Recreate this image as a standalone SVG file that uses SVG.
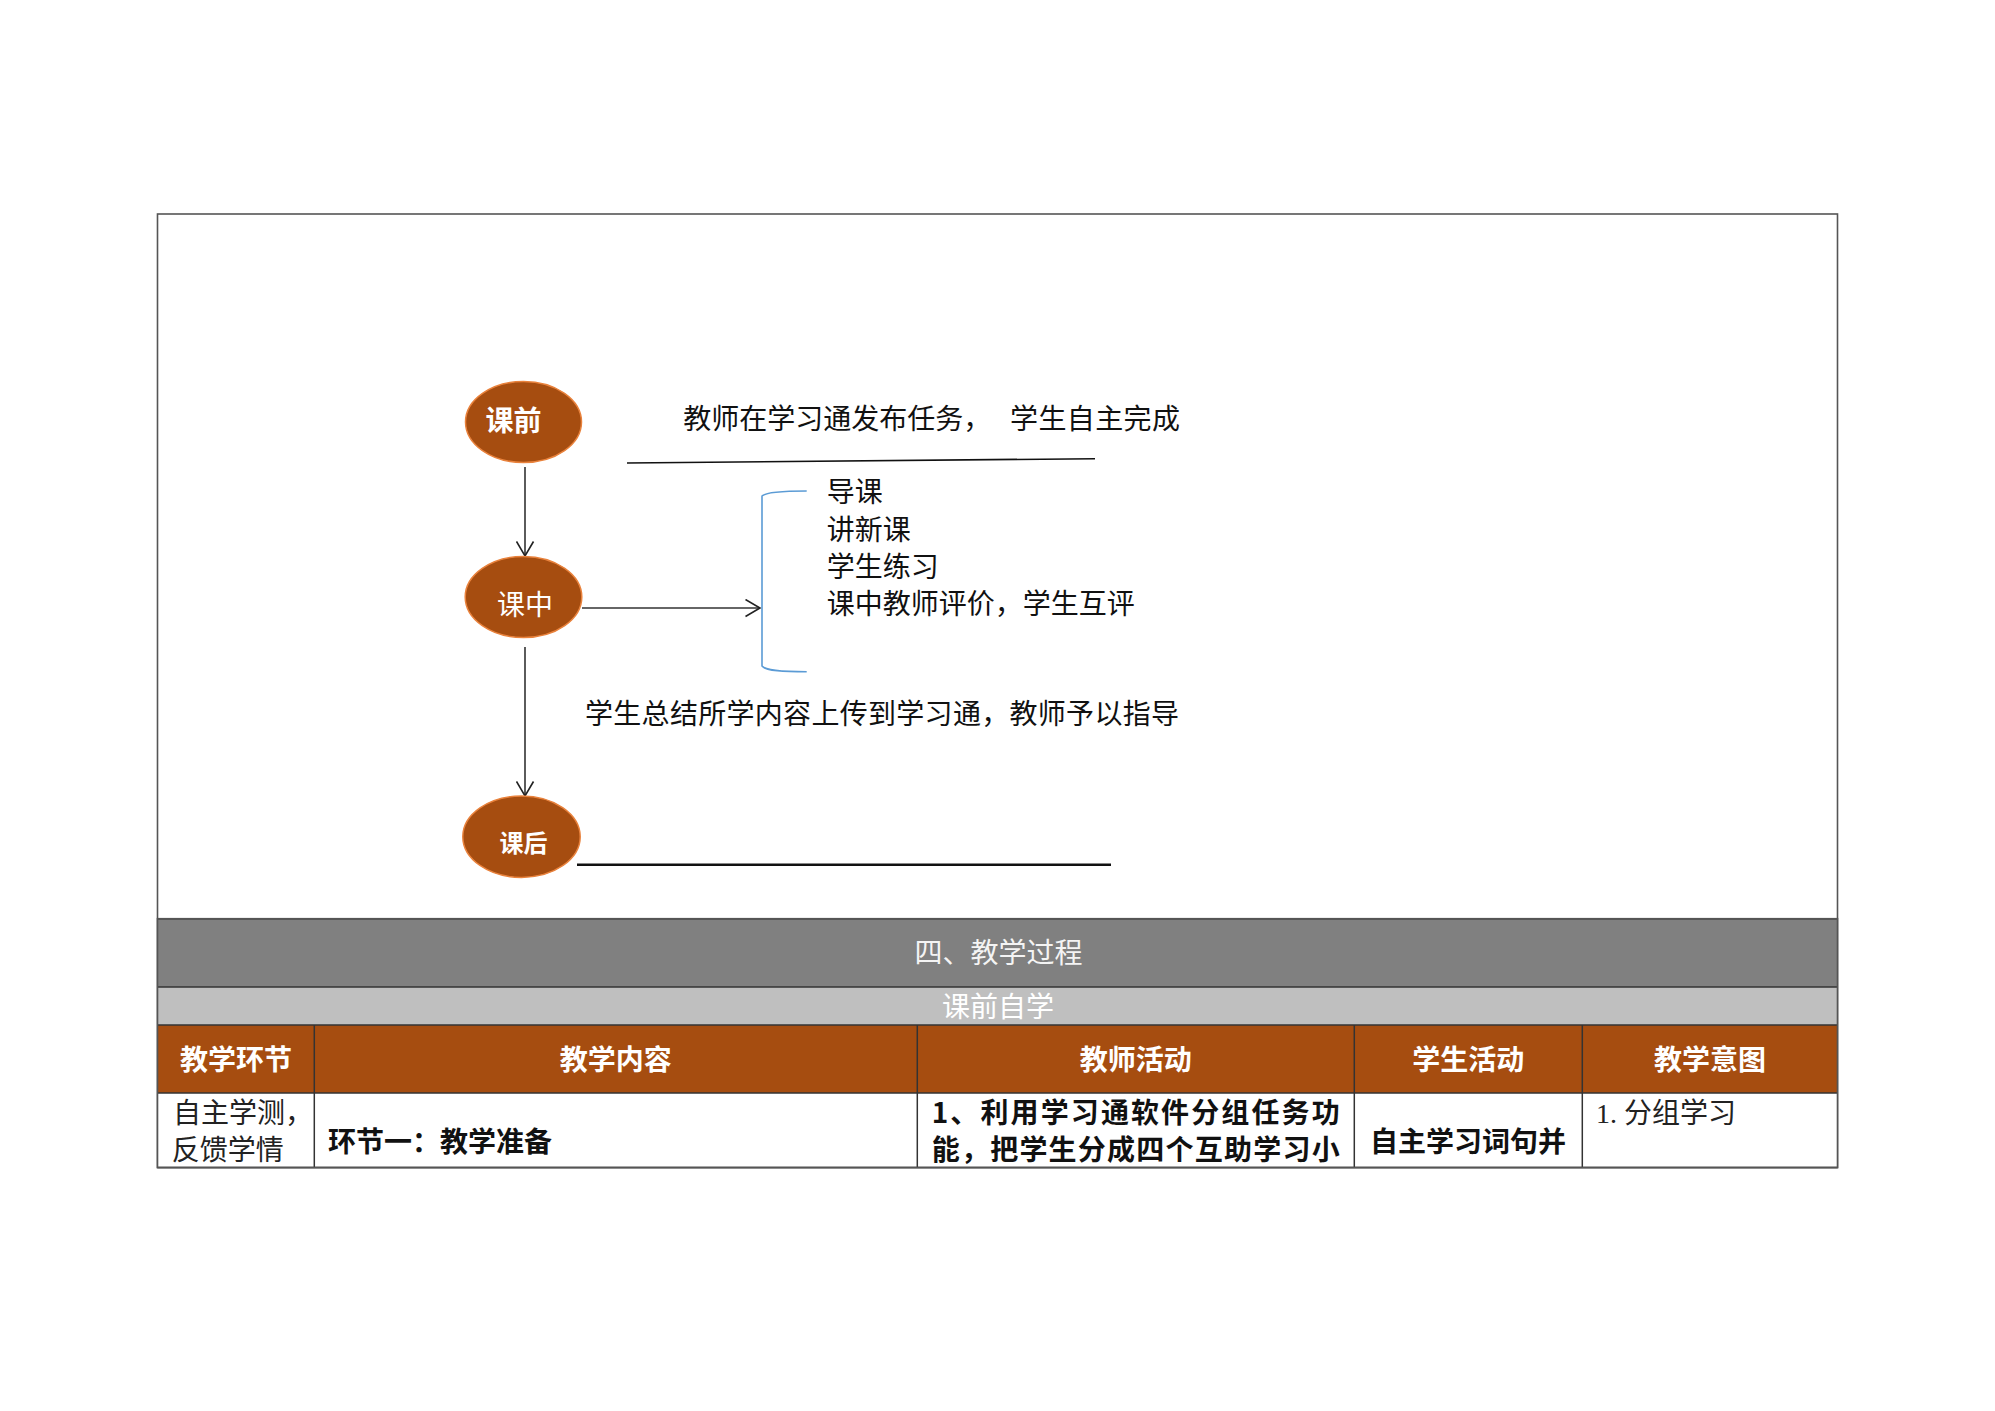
<svg xmlns="http://www.w3.org/2000/svg" width="1995" height="1411" viewBox="0 0 1995 1411">
<style>
.t{font-family:"Noto Sans CJK SC","Liberation Sans",sans-serif;font-size:28px;fill:#111}
.w{fill:#ffffff}
.b{font-weight:bold}
.node{fill:#A64D10;stroke:#E9823C;stroke-width:1.5}
.conn{stroke:#333;stroke-width:1.6;fill:none}
.grid{stroke:#333;stroke-width:1.5;fill:none}
</style>
<defs>
<marker id="arr" viewBox="0 0 17 19" markerWidth="17" markerHeight="19" refX="15.5" refY="9.5" orient="auto" markerUnits="userSpaceOnUse">
<path d="M1,1 L15.5,9.5 L1,18" fill="none" stroke="#222" stroke-width="1.6"/>
</marker>
</defs>
<rect width="1995" height="1411" fill="#ffffff"/>
<!-- outer box -->
<rect x="157.5" y="214" width="1680" height="953.5" fill="none" stroke="#555" stroke-width="1.6"/>

<!-- connectors -->
<g id="connectors">
<line class="conn" x1="525" y1="467" x2="525" y2="556" marker-end="url(#arr)"/>
<line class="conn" x1="525" y1="647" x2="525" y2="796" marker-end="url(#arr)"/>
<line class="conn" x1="582" y1="608" x2="760" y2="608" marker-end="url(#arr)"/>
<path d="M806.7,491 C784,491 766,492 762,496 L762,666 C766,671 784,671.7 806.7,671.7" fill="none" stroke="#5B9BD5" stroke-width="1.6"/>
<line x1="627" y1="463" x2="1095" y2="458.7" stroke="#111" stroke-width="1.6"/>
<line x1="577" y1="864.7" x2="1111" y2="864.7" stroke="#111" stroke-width="2.4"/>
</g>

<g id="node-keqian">
<ellipse class="node" cx="523.5" cy="422" rx="58" ry="40.5"/>
<text class="t w b" x="513.5" y="431" text-anchor="middle">课前</text>
</g>
<g id="node-kezhong">
<ellipse class="node" cx="523.5" cy="597" rx="58.3" ry="40.5"/>
<text class="t w" x="525" y="615" text-anchor="middle">课中</text>
</g>
<g id="node-kehou">
<ellipse class="node" cx="521.5" cy="836.7" rx="58.7" ry="40.7"/>
<text class="t w b" x="523.5" y="852" text-anchor="middle" style="font-size:24px">课后</text>
</g>

<g id="text-pre">
<text class="t" x="683.3" y="428.5">教师在学习通发布任务，</text>
<text class="t" x="1010" y="428.5" textLength="170" lengthAdjust="spacing">学生自主完成</text>
</g>
<g id="text-list">
<text class="t" x="826.7" y="502">导课</text>
<text class="t" x="826.7" y="540">讲新课</text>
<text class="t" x="826.7" y="577">学生练习</text>
<text class="t" x="826.7" y="613.5">课中教师评价，学生互评</text>
</g>
<g id="text-post">
<text class="t" x="585" y="723.5" textLength="594" lengthAdjust="spacing">学生总结所学内容上传到学习通，教师予以指导</text>
</g>

<!-- table -->
<g id="table">
<rect x="157.5" y="918.7" width="1680" height="68.3" fill="#808080"/>
<rect x="157.5" y="987" width="1680" height="38" fill="#BFBFBF"/>
<rect x="157.5" y="1025" width="1680" height="68" fill="#A64D10"/>
<rect x="157.5" y="1093" width="1680" height="74.5" fill="#ffffff"/>
<line class="grid" x1="157.5" y1="918.7" x2="1837.5" y2="918.7"/>
<line class="grid" x1="157.5" y1="987" x2="1837.5" y2="987"/>
<line class="grid" x1="157.5" y1="1025" x2="1837.5" y2="1025"/>
<line class="grid" x1="157.5" y1="1093" x2="1837.5" y2="1093"/>
<line class="grid" x1="157.5" y1="1167.5" x2="1837.5" y2="1167.5"/>
<line class="grid" x1="314.3" y1="1025" x2="314.3" y2="1167.5"/>
<line class="grid" x1="917.3" y1="1025" x2="917.3" y2="1167.5"/>
<line class="grid" x1="1354.3" y1="1025" x2="1354.3" y2="1167.5"/>
<line class="grid" x1="1582.3" y1="1025" x2="1582.3" y2="1167.5"/>
<rect x="157.5" y="918.7" width="1680" height="248.8" fill="none" stroke="#555" stroke-width="1.6"/>

<text class="t" x="998.4" y="963" text-anchor="middle" style="fill:#f4f4f4">四、教学过程</text>
<text class="t" x="998" y="1017" text-anchor="middle" style="fill:#ffffff">课前自学</text>

<text class="t w b" x="235.9" y="1070" text-anchor="middle">教学环节</text>
<text class="t w b" x="615.8" y="1070" text-anchor="middle">教学内容</text>
<text class="t w b" x="1135.8" y="1070" text-anchor="middle">教师活动</text>
<text class="t w b" x="1468.3" y="1070" text-anchor="middle">学生活动</text>
<text class="t w b" x="1710" y="1070" text-anchor="middle">教学意图</text>

<text class="t" x="173" y="1123" style="fill:#222">自主学测，</text>
<text class="t" x="171.7" y="1160" style="fill:#222">反馈学情</text>
<text class="t b" x="328" y="1151.7">环节一：教学准备</text>
<text class="t b" x="931.7" y="1123" textLength="408" lengthAdjust="spacing">1、利用学习通软件分组任务功</text>
<text class="t b" x="931.7" y="1160" textLength="408" lengthAdjust="spacing">能，把学生分成四个互助学习小</text>
<text class="t b" x="1370" y="1151.7">自主学习词句并</text>
<text class="t" x="1596" y="1123" style="fill:#222"><tspan style="font-family:'Liberation Serif',serif">1. </tspan>分组学习</text>
</g>
</svg>
